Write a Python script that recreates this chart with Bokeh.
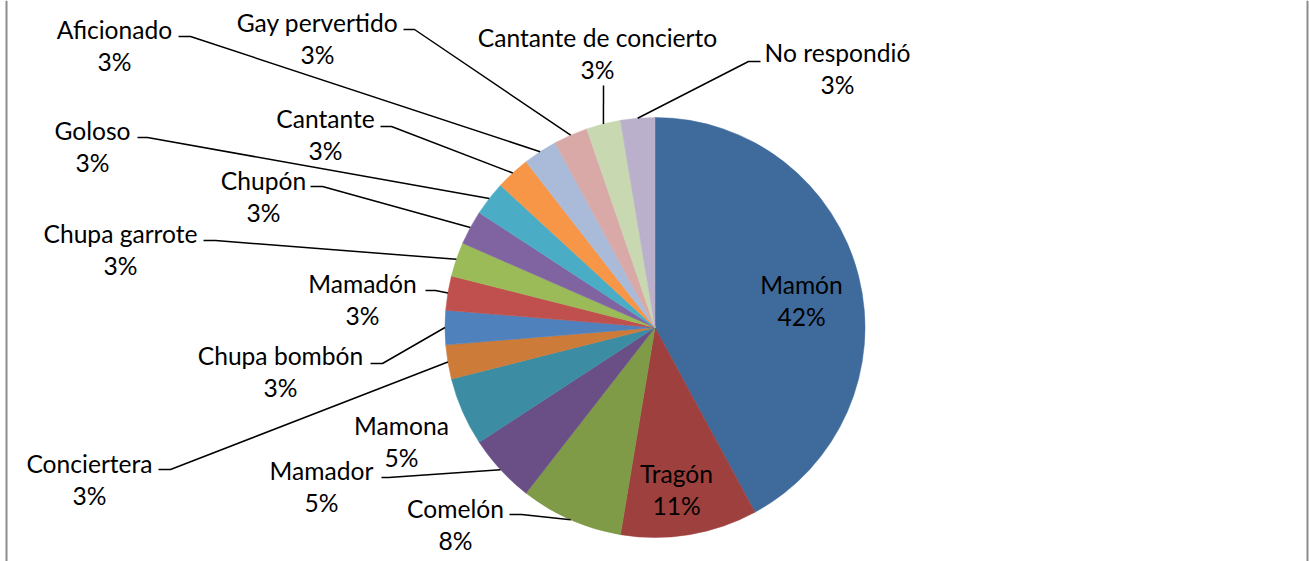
import math
from bokeh.plotting import figure
from bokeh.models import Range1d, Span, ColumnDataSource
from bokeh.embed import file_html
from bokeh.resources import INLINE
from bokeh.core.properties import value

# ---------------- data ----------------
categories = ["Mamón", "Tragón", "Comelón", "Mamador", "Mamona", "Conciertera",
              "Chupa bombón", "Mamadón", "Chupa garrote", "Chupón", "Goloso",
              "Cantante", "Aficionado", "Gay pervertido", "Cantante de concierto",
              "No respondió"]
counts = [16, 4, 3, 2, 2, 1, 1, 1, 1, 1, 1, 1, 1, 1, 1, 1]
colors = ["#3F6A9C", "#9E413E", "#7F9B48", "#6A4F86", "#3C8DA3", "#CC7B38",
          "#4F81BD", "#C0504D", "#9BBB59", "#8064A2", "#4BACC6", "#F79646",
          "#AABBD9", "#D9A9A8", "#C8D8B0", "#BAB0CC"]

# ---------------- layout (page pixel coords) ----------------
W, H = 1309, 561
CX, CY, R = 654.5, 327.0, 210.0
LINE_GAP = 32
FONT = "Lato"
FONT_SIZE = "24.6px"

# label centre (x, y of first line), leader stub points (None = no leader)
label_layout = {
    "Mamón": ((801, 284), None),
    "Tragón": ((676, 473), None),
    "Comelón": ((455, 508), [(509, 514), (521, 514)]),
    "Mamador": ((321, 470), [(381, 477), (388, 477)]),
    "Mamona": ((401, 425), None),
    "Conciertera": ((89, 463), [(158, 469), (170, 469)]),
    "Chupa bombón": ((280, 355), [(370, 363), (382, 363)]),
    "Mamadón": ((362, 283), [(425, 290), (435, 290)]),
    "Chupa garrote": ((120, 233), [(203, 240), (215, 240)]),
    "Chupón": ((263, 180), [(310, 186), (322, 186)]),
    "Goloso": ((92, 130), [(137, 137), (147, 137)]),
    "Cantante": ((325, 118), [(380, 126), (391, 126)]),
    "Aficionado": ((114, 29), [(178, 36), (190, 36)]),
    "Gay pervertido": ((317, 22), [(403, 29), (414, 29)]),
    "Cantante de concierto": ((597, 37), [(603, 85)]),
    "No respondió": ((837, 52), [(760, 61), (748, 61)]),
}

total = float(sum(counts))
fracs = [c / total for c in counts]
starts, ends, mids = [], [], []
acc = 0.0
for f in fracs:
    s = acc * 2 * math.pi
    acc += f
    e = acc * 2 * math.pi
    starts.append(s)
    ends.append(e)
    mids.append((s + e) / 2)

# Bokeh angles: counter-clockwise from +x; pie runs clockwise from 12 o'clock
start_angle = [math.pi / 2 - e for e in ends]
end_angle = [math.pi / 2 - s for s in starts]

p = figure(width=W, height=H, output_backend="svg", toolbar_location=None,
           x_range=Range1d(0, W), y_range=Range1d(-H, 0),
           min_border=0, min_border_left=0, min_border_right=0,
           min_border_top=0, min_border_bottom=0)
p.axis.visible = False
p.grid.visible = False
p.outline_line_color = None
p.background_fill_color = "white"
p.border_fill_color = "white"

src = ColumnDataSource(dict(start=start_angle, end=end_angle, color=colors, cat=categories))
p.wedge(x=CX, y=-CY, radius=R, start_angle="start", end_angle="end",
        fill_color="color", line_color="color", line_width=0.5, source=src)

# leader lines
xs, ys = [], []
for cat, m in zip(categories, mids):
    (lx, ly), stub = label_layout[cat]
    if stub is None:
        continue
    ex = CX + R * math.sin(m)
    ey = CY - R * math.cos(m)
    pts = list(stub) + [(ex, ey)]
    xs.append([pt[0] for pt in pts])
    ys.append([-pt[1] for pt in pts])
p.multi_line(xs, ys, line_color="black", line_width=1.5)

# labels
tx, ty, tt = [], [], []
for cat, c in zip(categories, counts):
    (lx, ly), _ = label_layout[cat]
    pct = f"{round(c / total * 100):d}%"
    tx += [lx, lx]
    ty += [-ly, -(ly + LINE_GAP)]
    tt += [cat, pct]
p.text(x=tx, y=ty, text=tt, text_font=value(FONT), text_font_size=FONT_SIZE,
       text_align="center", text_baseline="middle", text_color="black")

# chart frame side lines
p.add_layout(Span(location=6, dimension="height", line_color="#8C8C8C", line_width=2))
p.add_layout(Span(location=1307, dimension="height", line_color="#8C8C8C", line_width=2))

open("out.html", "w").write(file_html(p, INLINE))
